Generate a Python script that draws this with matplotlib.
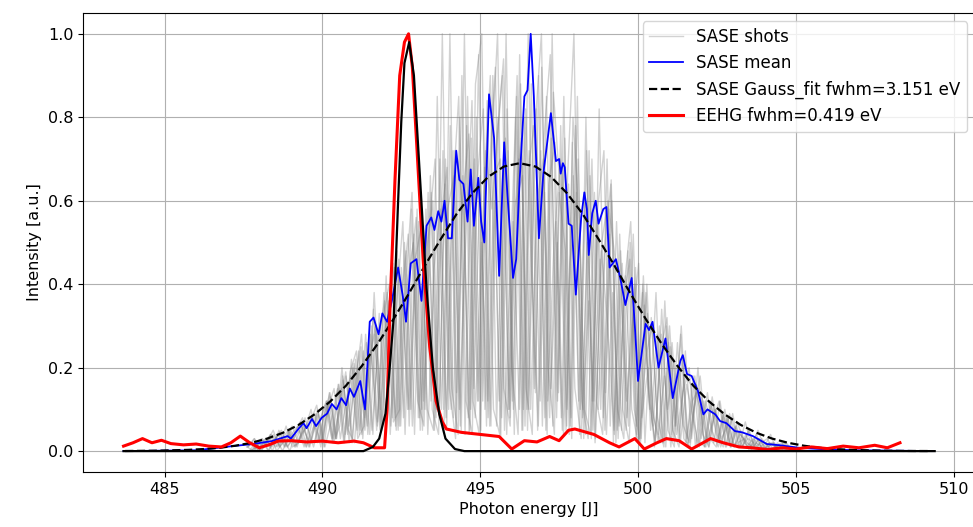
import numpy as np
import matplotlib
matplotlib.use('Agg')
import matplotlib.pyplot as plt

# --- data ---
# single SASE shots, energy grid 487.6 .. 504.8 eV, step 0.2,
# each shot sampled with its own small start offset (eV)
shot_E = np.round(np.arange(487.6, 504.81, 0.2), 2)
shot_shift = [0.0, 0.1, 0.05, 0.15, 0.02, 0.12, 0.08, 0.17, 0.04, 0.14]
shots = [
    [.01, .02, .00, .03, .01, .04, .01, .05, .01, .06,
     .01, .09, .02, .12, .03, .15, .04, .21, .05, .26,
     .04, .33, .08, .42, .05, .50, .10, .58, .12, .46,
     .08, 1.0, .10, .72, .05, .85, .15, .66, .06, .90,
     .12, .75, .20, .04, .80, .10, .60, .70, .08, .55,
     .05, .64, .15, .03, .50, .12, .46, .04, .38, .06,
     .42, .10, .02, .35, .05, .28, .02, .30, .06, .22,
     .02, .18, .03, .14, .02, .12, .01, .09, .01, .07,
     .01, .05, .01, .04, .00, .02, .01],
    [.00, .01, .03, .00, .03, .05, .01, .04, .07, .01,
     .08, .02, .11, .03, .16, .02, .18, .05, .24, .04,
     .30, .06, .36, .08, .44, .10, .52, .05, .48, .60,
     .08, .70, .15, .04, 1.0, .10, .65, .82, .06, .70,
     .90, .10, .58, .75, .05, .68, .12, .85, .06, .62,
     .48, .03, .70, .10, .04, .58, .08, .52, .02, .45,
     .06, .40, .03, .33, .08, .02, .30, .05, .01, .24,
     .03, .20, .01, .12, .04, .01, .09, .02, .01, .05,
     .01, .02, .03, .00, .01, .02, .00],
    [.01, .03, .00, .02, .04, .01, .06, .01, .02, .08,
     .02, .10, .01, .13, .03, .17, .02, .22, .04, .20,
     .28, .05, .38, .07, .10, .48, .06, .55, .10, .62,
     .12, .05, .78, .14, .66, .04, .88, 1.0, .08, .60,
     .03, .82, .10, .95, .15, .04, .90, .08, .75, .12,
     .85, .06, .62, .10, .72, .03, .50, .60, .04, .48,
     .08, .52, .03, .38, .10, .02, .36, .04, .26, .03,
     .01, .16, .04, .01, .10, .02, .08, .01, .05, .01,
     .03, .01, .02, .00, .01, .01, .00],
    [.00, .02, .01, .04, .00, .02, .05, .01, .04, .07,
     .09, .01, .12, .02, .06, .18, .03, .24, .05, .30,
     .07, .38, .04, .35, .55, .06, .45, .10, .62, .05,
     .55, .68, .08, .80, .12, .04, .95, .10, .70, 1.0,
     .15, .06, .85, .05, .72, .14, .92, .20, .04, .78,
     .10, .66, .04, .80, .12, .55, .05, .65, .10, .03,
     .50, .06, .40, .12, .02, .34, .05, .01, .28, .03,
     .18, .02, .01, .13, .03, .10, .01, .07, .02, .01,
     .04, .00, .02, .01, .02, .00, .01],
    [.01, .00, .02, .03, .00, .05, .01, .04, .06, .01,
     .07, .11, .02, .14, .03, .20, .05, .02, .25, .06,
     .34, .05, .42, .08, .46, .04, .58, .12, .06, .66,
     .10, .72, .15, .03, .90, .08, .70, .05, .84, .10,
     .04, 1.0, .12, .70, .06, .88, .05, .75, .95, .08,
     .68, .04, .78, .12, .03, .62, .10, .70, .02, .52,
     .05, .30, .45, .02, .32, .08, .01, .25, .04, .14,
     .20, .01, .13, .02, .11, .01, .08, .02, .01, .04,
     .00, .03, .01, .00, .02, .00, .01],
    [.02, .00, .02, .03, .01, .03, .05, .01, .04, .06,
     .01, .07, .12, .02, .16, .04, .22, .03, .06, .28,
     .05, .32, .40, .06, .38, .52, .04, .60, .10, .05,
     .70, .08, .60, .85, .04, .75, .12, .62, .90, .06,
     .68, .10, .80, .05, 1.0, .15, .72, .04, .86, .64,
     .05, .74, .12, .62, .03, .58, .72, .06, .55, .10,
     .02, .44, .08, .20, .01, .24, .32, .03, .20, .02,
     .12, .15, .01, .11, .02, .09, .01, .06, .01, .05,
     .00, .03, .01, .02, .00, .01, .00],
    [.00, .02, .03, .00, .03, .04, .01, .03, .05, .01,
     .05, .09, .01, .07, .15, .02, .19, .24, .03, .22,
     .30, .05, .33, .44, .06, .40, .50, .08, .58, .10,
     .04, .64, .10, .70, .56, .05, .80, .12, .66, .92,
     .08, .72, .04, .88, .10, .78, .65, .05, 1.0, .14,
     .75, .08, .85, .03, .66, .12, .04, .58, .46, .05,
     .48, .10, .02, .40, .06, .30, .01, .26, .03, .18,
     .16, .01, .12, .03, .01, .09, .02, .06, .01, .03,
     .02, .00, .01, .02, .00, .01, .00],
    [.02, .00, .02, .04, .01, .03, .00, .05, .08, .01,
     .06, .02, .10, .15, .03, .13, .20, .04, .28, .05,
     .26, .36, .06, .48, .08, .42, .56, .05, .52, .70,
     .10, .58, .66, .06, .78, .12, .04, .72, .58, .80,
     .05, .48, .90, .10, .70, .82, .06, .64, .74, .08,
     .66, 1.0, .10, .72, .05, .82, .14, .60, .03, .40,
     .55, .04, .42, .10, .38, .02, .26, .06, .30, .01,
     .10, .18, .02, .07, .12, .01, .08, .02, .03, .01,
     .03, .00, .02, .01, .00, .01, .00],
    [.01, .03, .00, .02, .05, .01, .03, .06, .02, .05,
     .10, .02, .08, .14, .03, .18, .06, .16, .28, .04,
     .38, .10, .30, .45, .06, .40, .62, .08, .50, .12,
     .85, .10, 1.0, .05, .60, .76, .08, .50, .12, .66,
     .70, .04, .55, .10, .82, .40, .06, .62, .15, .50,
     .04, .45, .60, .08, .36, .02, .48, .30, .05, .40,
     .12, .34, .02, .22, .30, .04, .18, .01, .20, .06,
     .02, .14, .08, .01, .10, .03, .06, .01, .04, .02,
     .01, .03, .00, .02, .01, .00, .01],
    [.00, .01, .02, .01, .03, .00, .04, .02, .06, .03,
     .02, .08, .12, .03, .10, .19, .02, .20, .08, .24,
     .06, .28, .34, .05, .36, .10, .46, .54, .04, .44,
     .58, .06, .72, .10, .50, .84, .12, .68, .06, .76,
     .94, .08, .60, .66, .10, .78, 1.0, .12, .50, .70,
     .06, .80, .55, .04, .70, .10, .48, .64, .05, .36,
     .46, .03, .38, .14, .02, .28, .10, .22, .02, .16,
     .08, .01, .12, .05, .01, .08, .01, .05, .03, .00,
     .02, .01, .00, .01, .01, .00, .00],
]

# SASE mean
mean_E = [483.7, 486.0, 487.15, 487.8, 488.4, 488.9, 489.0, 489.26, 489.4, 489.5,
          489.67, 489.8, 489.98, 490.15, 490.3, 490.45, 490.6, 490.75, 490.87, 491.0,
          491.2, 491.35, 491.5, 491.62, 491.78, 491.9, 492.05, 492.2, 492.4, 492.55,
          492.65, 492.8, 492.98, 493.14, 493.3, 493.45, 493.55, 493.67, 493.77, 493.87,
          493.98, 494.1, 494.24, 494.34, 494.47, 494.6, 494.7, 494.8, 494.94, 495.03,
          495.13, 495.28, 495.44, 495.6, 495.76, 495.85, 496.04, 496.14, 496.25, 496.4,
          496.5, 496.6, 496.7, 496.86, 497.0, 497.24, 497.4, 497.5, 497.55, 497.62,
          497.68, 497.8, 497.9, 498.03, 498.2, 498.3, 498.38, 498.44, 498.55, 498.66,
          498.75, 498.9, 499.0, 499.1, 499.3, 499.45, 499.6, 499.8, 499.9, 500.0,
          500.24, 500.35, 500.46, 500.65, 500.87, 501.1, 501.34, 501.42, 501.55, 501.7,
          501.9, 502.07, 502.2, 502.45, 502.6, 502.8, 503.07, 503.3, 503.64, 504.08,
          504.5, 505.1, 506.0, 507.0, 509.3]
mean_I = [0.0, 0.002, 0.012, 0.017, 0.024, 0.036, 0.03, 0.055, 0.067, 0.055,
          0.077, 0.06, 0.08, 0.09, 0.113, 0.10, 0.127, 0.11, 0.15, 0.13,
          0.168, 0.10, 0.31, 0.32, 0.28, 0.33, 0.31, 0.36, 0.44, 0.37,
          0.31, 0.45, 0.46, 0.36, 0.54, 0.56, 0.53, 0.575, 0.55, 0.60,
          0.51, 0.51, 0.72, 0.65, 0.64, 0.55, 0.675, 0.54, 0.655, 0.55,
          0.50, 0.855, 0.75, 0.42, 0.74, 0.63, 0.415, 0.46, 0.65, 0.85,
          0.865, 1.0, 0.85, 0.51, 0.665, 0.81, 0.695, 0.70, 0.665, 0.69,
          0.68, 0.545, 0.54, 0.375, 0.56, 0.62, 0.58, 0.47, 0.57, 0.60,
          0.545, 0.58, 0.585, 0.44, 0.46, 0.41, 0.35, 0.415, 0.30, 0.168,
          0.305, 0.29, 0.31, 0.20, 0.27, 0.127, 0.216, 0.23, 0.185, 0.18,
          0.144, 0.088, 0.10, 0.088, 0.072, 0.067, 0.048, 0.045, 0.036, 0.017,
          0.014, 0.008, 0.004, 0.002, 0.0]

# SASE Gauss fit, grid 483.75 .. 509.25 eV, step 0.5
fit_E = np.arange(483.75, 509.26, 0.5)
fit_I = [0.0003, 0.0006, 0.001, 0.002, 0.003, 0.005, 0.008, 0.013, 0.020, 0.030,
         0.044, 0.063, 0.088, 0.119, 0.157, 0.204, 0.257, 0.316, 0.379, 0.445,
         0.508, 0.568, 0.618, 0.657, 0.682, 0.69, 0.682, 0.657, 0.618, 0.568,
         0.508, 0.445, 0.379, 0.316, 0.257, 0.204, 0.157, 0.119, 0.088, 0.063,
         0.044, 0.030, 0.020, 0.013, 0.008, 0.005, 0.003, 0.002, 0.001, 0.0006,
         0.0003, 0.0002]

# EEHG spectrum
eehg_E = [483.7, 484.0, 484.3, 484.6, 484.9, 485.2, 485.6, 486.0, 486.4, 486.8,
          487.1, 487.4, 487.7, 488.0, 488.3, 488.6, 489.0, 489.5, 490.0, 490.5,
          491.0, 491.3, 491.65, 491.97, 492.05, 492.13, 492.3, 492.45, 492.6, 492.73,
          492.85, 493.0, 493.2, 493.4, 493.6, 493.8, 493.93, 494.4, 495.0, 495.6,
          496.0, 496.4, 496.8, 497.2, 497.5, 497.8, 498.0, 498.6, 499.1, 499.4,
          499.9, 500.2, 500.6, 500.9, 501.3, 501.7, 502.3, 502.7, 503.2, 503.6,
          504.1, 504.6, 505.0, 505.5, 506.0, 506.5, 507.0, 507.5, 507.9, 508.3]
eehg_I = [0.012, 0.02, 0.03, 0.02, 0.026, 0.018, 0.015, 0.017, 0.012, 0.01,
          0.02, 0.036, 0.02, 0.008, 0.015, 0.024, 0.025, 0.022, 0.024, 0.02,
          0.024, 0.02, 0.008, 0.008, 0.1, 0.32, 0.65, 0.9, 0.98, 1.0,
          0.92, 0.72, 0.45, 0.25, 0.12, 0.07, 0.053, 0.045, 0.04, 0.035,
          0.005, 0.025, 0.022, 0.035, 0.025, 0.05, 0.053, 0.04, 0.02, 0.01,
          0.03, 0.005, 0.02, 0.03, 0.025, 0.005, 0.03, 0.02, 0.01, 0.008,
          0.004, 0.008, 0.005, 0.01, 0.006, 0.012, 0.008, 0.014, 0.008, 0.02]

# EEHG fit
efit_E = [483.7, 491.3, 491.6, 491.8, 492.0, 492.1, 492.26, 492.4, 492.5, 492.6,
          492.75, 492.9, 493.05, 493.3, 493.5, 493.7, 493.9, 494.2, 494.5, 509.4]
efit_I = [0.0, 0.0, 0.01, 0.03, 0.09, 0.17, 0.32, 0.6, 0.79, 0.93,
          0.98, 0.9, 0.71, 0.39, 0.2, 0.09, 0.03, 0.005, 0.0, 0.0]

plt.rcParams['font.size'] = 11.5

fig = plt.figure(figsize=(9.73, 5.27), dpi=100)
ax = fig.add_axes([0.0853, 0.1044, 0.917, 0.871])

for i, s in enumerate(shots):
    ax.plot(shot_E + shot_shift[i], s, color='gray', alpha=0.35, lw=1.0,
            label='SASE shots' if i == 0 else None)
ax.plot(mean_E, mean_I, color='blue', lw=1.3, label='SASE mean')
ax.plot(fit_E, fit_I, 'k--', lw=1.6, label='SASE Gauss_fit fwhm=3.151 eV')
ax.plot(eehg_E, eehg_I, color='red', lw=2.2, label='EEHG fwhm=0.419 eV')
ax.plot(efit_E, efit_I, color='black', lw=1.6)

ax.set_xlabel('Photon energy [J]')
ax.set_ylabel('Intensity [a.u.]')
ax.grid(True)
ax.legend(loc='upper right', fontsize=12)

fig.savefig('out.png', dpi=100)
